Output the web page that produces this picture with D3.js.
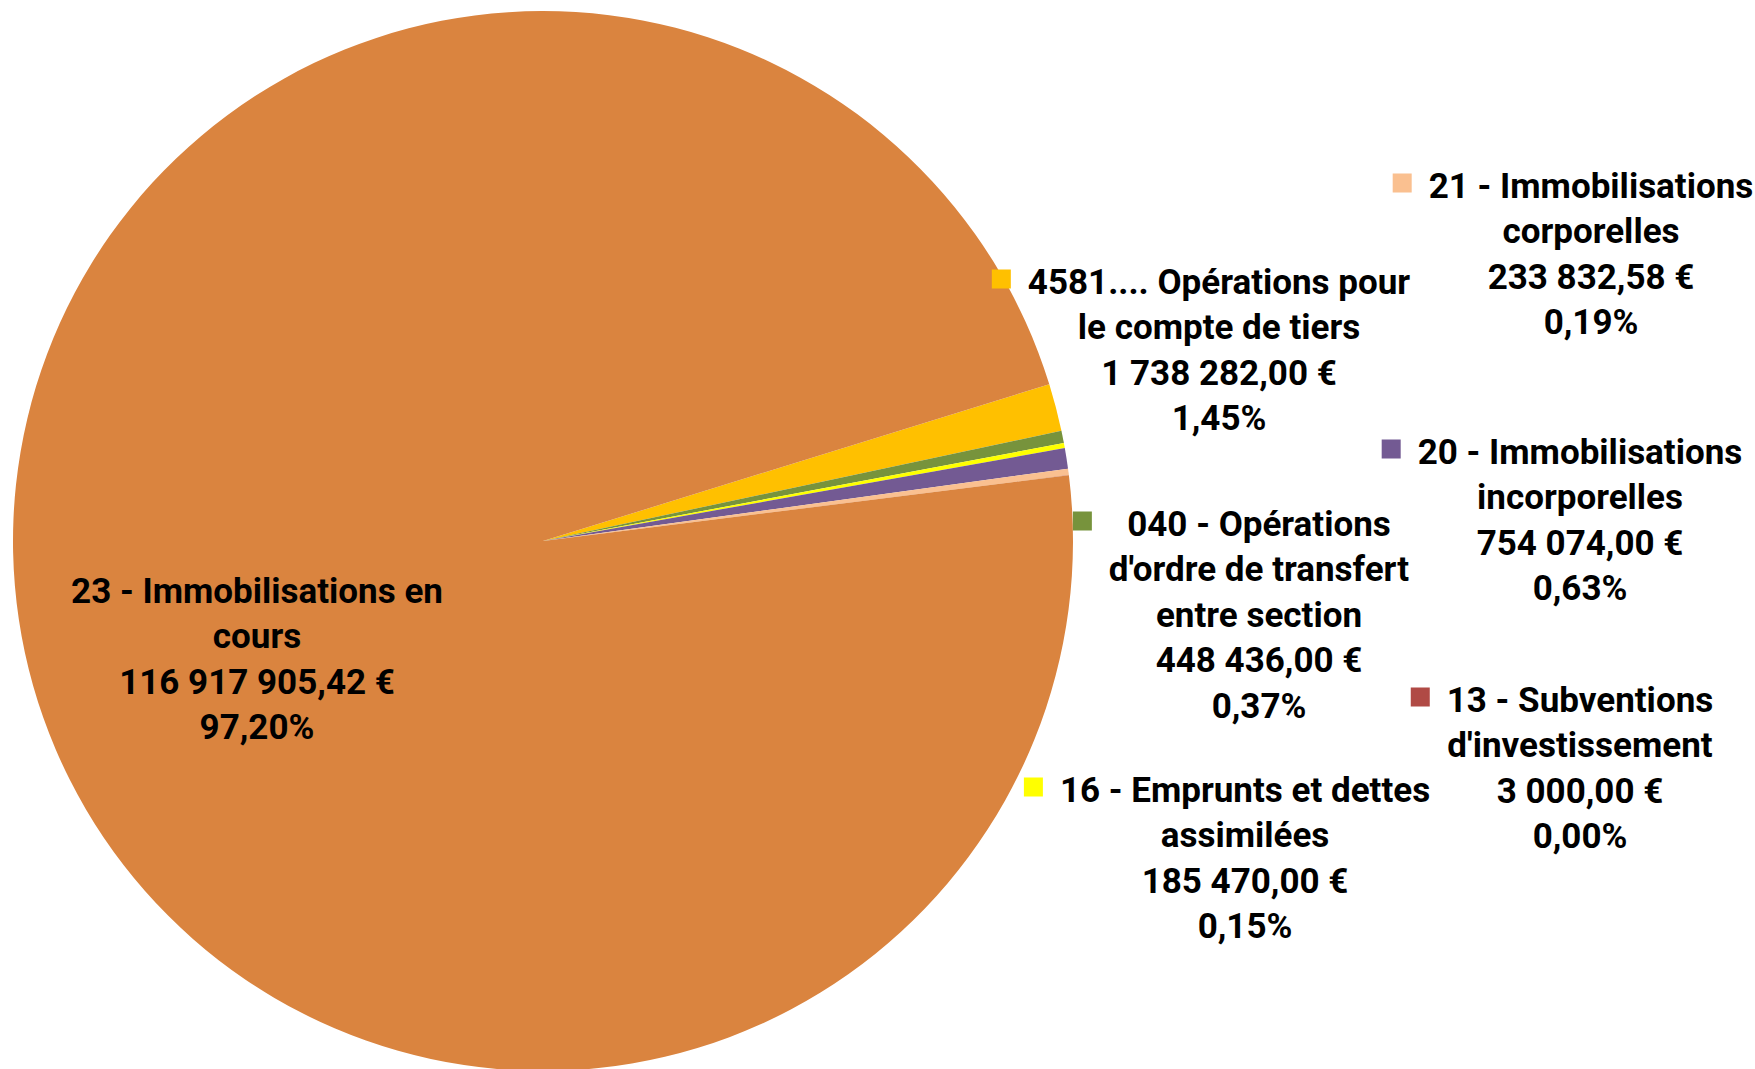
<!DOCTYPE html>
<html>
<head>
<meta charset="utf-8">
<script src="https://cdn.jsdelivr.net/npm/d3@7"></script>
<style>
  html, body { margin: 0; padding: 0; background: #fff; }
  svg { display: block; }
</style>
</head>
<body>
<script>
// Slices in drawing order (clockwise), starting just above 3 o'clock
const categories = ["4581", "040", "16", "20", "21", "13", "23"];
const labelLines = [
    ["4581.... Opérations pour", "le compte de tiers"],
    ["040 - Opérations", "d'ordre de transfert", "entre section"],
    ["16 - Emprunts et dettes", "assimilées"],
    ["20 - Immobilisations", "incorporelles"],
    ["21 - Immobilisations", "corporelles"],
    ["13 - Subventions", "d'investissement"],
    ["23 - Immobilisations en", "cours"]
];
const values = [1738282.00, 448436.00, 185470.00, 754074.00, 233832.58, 3000.00, 116917905.42];
const colors = ["#FFC000", "#77933C", "#FFFF00", "#735A93", "#FAC090", "#B04A45", "#DA843F"];

// where each label block sits (center x, first line center y), and whether it has a key
const labelLayout = [
    {x: 1219, y: 282, key: true},
    {x: 1259, y: 524, key: true},
    {x: 1245, y: 790, key: true},
    {x: 1580, y: 452, key: true},
    {x: 1591, y: 186, key: true},
    {x: 1580, y: 700, key: true},
    {x: 257, y: 591, key: false}
];

const svg_width = 1755, svg_height = 1069;
const cx = 543, cy = 541, radius = 530;
const lineHeight = 45.5;

const fr = d3.formatLocale({decimal: ",", thousands: "\u00a0", grouping: [3], currency: ["", " €"]});
const fmtMoney = fr.format(",.2f");
const fmtPct = fr.format(".2%");

const svg = d3.select("body").append("svg")
    .attr("width", svg_width)
    .attr("height", svg_height);

const total = d3.sum(values);
const startAngle = 72.8 * Math.PI / 180;

const pie = d3.pie()
    .sort(null)
    .value(d => d)
    .startAngle(startAngle)
    .endAngle(startAngle + 2 * Math.PI);

const arc = d3.arc().innerRadius(0).outerRadius(radius);

const g = svg.append("g").attr("transform", `translate(${cx},${cy})`);
g.selectAll("path")
    .data(pie(values))
    .enter()
    .append("path")
    .attr("d", arc)
    .attr("fill", (d, i) => colors[i]);

// Labels
const labels = svg.append("g")
    .attr("font-family", "Roboto, 'Noto Sans', sans-serif")
    .attr("font-weight", "bold")
    .attr("font-size", 35)
    .attr("fill", "#000");

categories.forEach((cat, i) => {
    const pos = labelLayout[i];
    const lines = labelLines[i].concat([fmtMoney(values[i]) + " €", fmtPct(values[i] / total)]);
    const block = labels.append("g").attr("class", "label-" + cat);
    const texts = block.selectAll("text")
        .data(lines)
        .enter()
        .append("text")
        .attr("x", pos.x)
        .attr("y", (d, j) => pos.y + j * lineHeight)
        .attr("text-anchor", "middle")
        .attr("dominant-baseline", "central")
        .text(d => d);

    if (pos.key) {
        let maxW = 0;
        texts.each(function () { maxW = Math.max(maxW, this.getComputedTextLength()); });
        const size = 19;
        block.append("rect")
            .attr("x", pos.x - maxW / 2 - 17 - size)
            .attr("y", pos.y - 3 - size / 2)
            .attr("width", size)
            .attr("height", size)
            .attr("fill", colors[i]);
    }
});
</script>
</body>
</html>
